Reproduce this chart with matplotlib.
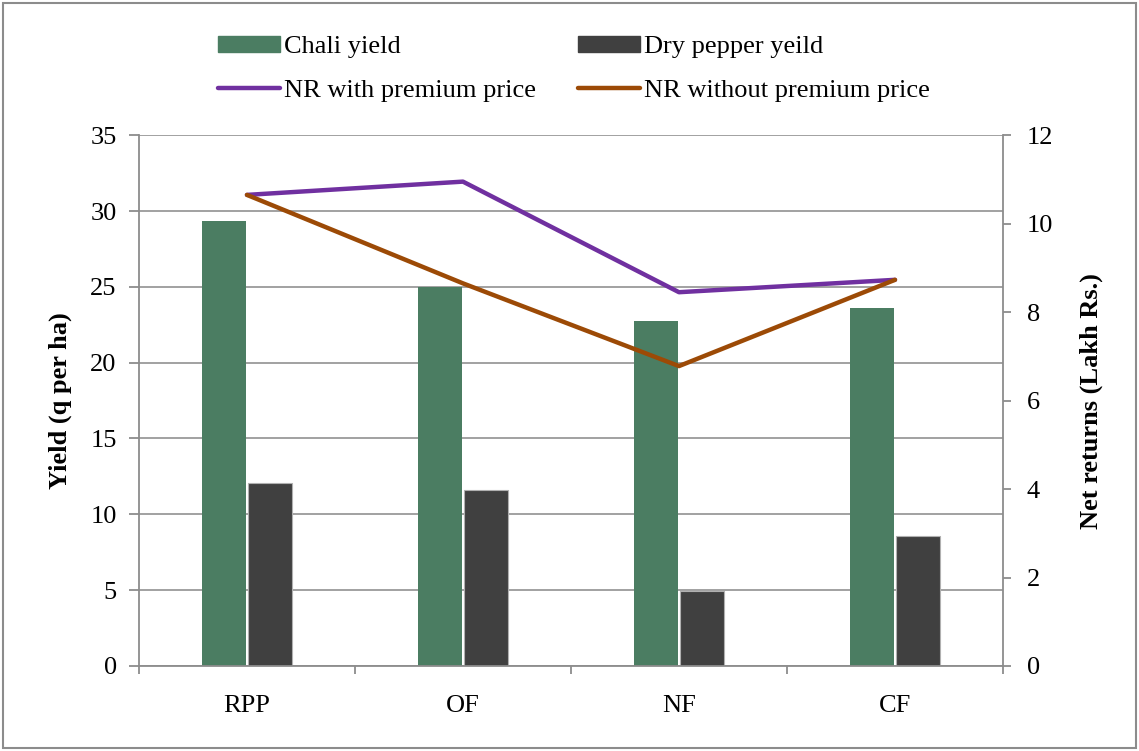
import numpy as np
import matplotlib
matplotlib.use("Agg")
import matplotlib.pyplot as plt
from matplotlib.patches import Rectangle

plt.rcParams["font.family"] = ["Liberation Serif", "DejaVu Serif"]

systems = ["RPP", "OF", "NF", "CF"]
chali_yield = [29.35, 25.0, 22.75, 23.6]
dry_pepper_yield = [12.05, 11.6, 4.95, 8.6]
nr_premium = [10.65, 10.95, 8.45, 8.73]
nr_no_premium = [10.65, 8.65, 6.78, 8.73]

GREEN = "#4b7d62"
DARK = "#404040"
PURPLE = "#7030a0"
ORANGE = "#9c4a06"
AXIS_GRAY = "#8c8c8c"
FS = 19

fig = plt.figure(figsize=(11.39, 7.51), dpi=100)
fig.patches.append(Rectangle((0.003, 0.004), 0.994, 0.992, transform=fig.transFigure,
                             fill=False, edgecolor=AXIS_GRAY, linewidth=1.5))
ax = fig.add_axes([0.122, 0.1132, 0.7586, 0.7068])
ax2 = ax.twinx()

x = np.arange(len(systems))
w = 0.204
ax.bar(x - 0.106, chali_yield, w, color=GREEN, zorder=2)
ax.bar(x + 0.106, dry_pepper_yield, w, color=DARK, edgecolor="#b0b0b0",
       linewidth=0.8, zorder=2)

ax.set_xlim(-0.5, 3.5)
ax.set_ylim(0, 35)
ax.set_yticks(range(0, 36, 5))
ax.yaxis.grid(True, color="#9a9a9a", linewidth=1.3, zorder=0)
ax.set_axisbelow(True)
ax.set_xticks(np.arange(-0.5, 4, 1))
ax.set_xticklabels([])
ax.set_xticks(x, minor=True)
ax.set_xticklabels(systems, minor=True)
ax.tick_params(axis="x", which="minor", length=0, pad=21, labelsize=FS)
ax.tick_params(axis="x", which="major", length=6, color=AXIS_GRAY, width=1.3)
ax.tick_params(axis="y", length=7, color=AXIS_GRAY, width=1.3, labelsize=FS, pad=9)
ax.set_ylabel("Yield (q per ha)", fontsize=FS, fontweight="bold", labelpad=13)

ax2.plot(x, nr_premium, color=PURPLE, linewidth=3.2, solid_capstyle="round",
         label="NR with premium price", zorder=3)
ax2.plot(x, nr_no_premium, color=ORANGE, linewidth=3.2, solid_capstyle="round",
         label="NR without premium price", zorder=3)
ax2.set_ylim(0, 12)
ax2.set_yticks(range(0, 13, 2))
ax2.tick_params(axis="y", length=6, color=AXIS_GRAY, width=1.3, labelsize=FS, pad=11)
ax2.set_ylabel("Net returns (Lakh Rs.)", fontsize=FS, fontweight="bold",
               rotation=90, labelpad=19)

for a in (ax, ax2):
    for s in a.spines.values():
        s.set_visible(False)
ax.spines["left"].set_visible(True)
ax.spines["left"].set_color(AXIS_GRAY)
ax.spines["left"].set_linewidth(1.3)
ax.spines["bottom"].set_visible(True)
ax.spines["bottom"].set_color(AXIS_GRAY)
ax.spines["bottom"].set_linewidth(1.3)
ax2.spines["right"].set_visible(True)
ax2.spines["right"].set_color(AXIS_GRAY)
ax2.spines["right"].set_linewidth(1.3)

# legend: two rows, bars on top, lines below
handles = [
    Rectangle((0, 0), 1, 1, color=GREEN),
    Rectangle((0, 0), 1, 1, color=DARK),
    plt.Line2D([], [], color=PURPLE, linewidth=3.2, solid_capstyle="round"),
    plt.Line2D([], [], color=ORANGE, linewidth=3.2, solid_capstyle="round"),
]
labels = ["Chali yield", "Dry pepper yeild", "NR with premium price",
          "NR without premium price"]
order = [0, 2, 1, 3]
fig.legend([handles[i] for i in order], [labels[i] for i in order], ncol=2,
           loc="upper left", bbox_to_anchor=(0.18, 0.97), frameon=False,
           borderpad=0, fontsize=FS, handlelength=2.35, handleheight=0.55,
           handletextpad=0.15, columnspacing=1.6, labelspacing=0.81)

fig.savefig("out.png", dpi=100)
